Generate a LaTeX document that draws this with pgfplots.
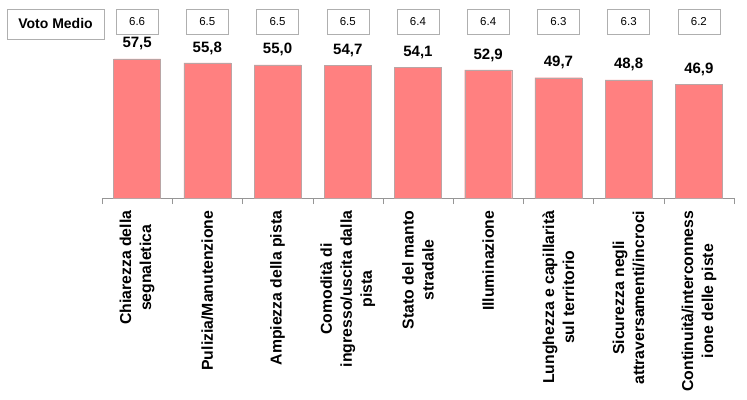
\documentclass[border=0pt]{standalone}
\usepackage{fontspec}
\setmainfont{Liberation Sans}
\usepackage{pgfplots}
\pgfplotsset{compat=1.18}
\definecolor{barfill}{RGB}{255,128,128}
\definecolor{bardraw}{RGB}{185,165,165}
\definecolor{axisgray}{RGB}{150,150,150}
\definecolor{boxgray}{RGB}{175,175,175}
\begin{document}
\begin{tikzpicture}
\path[use as bounding box] (0pt,0pt) rectangle (747pt,399pt);
\node[draw=boxgray, minimum width=97pt, minimum height=30pt, inner sep=0pt,
      font=\bfseries\fontsize{14}{16}\selectfont] at (55.5pt,375pt) {Voto Medio};
\begin{axis}[
  at={(137.1pt,201pt)}, anchor=origin,
  scale only axis, width=632pt, height=193.6pt,
  xmin=-0.5, xmax=8.5, ymin=0, ymax=80,
  axis y line=none, axis x line*=bottom,
  x axis line style={-, draw=axisgray},
  xtick={0,...,8},
  xticklabels={Chiarezza della\\segnaletica, Pulizia/Manutenzione, Ampiezza della pista,
    Comodità di\\ingresso/uscita dalla\\pista, Stato del manto\\stradale, Illuminazione,
    Lunghezza e capillarità\\sul territorio, Sicurezza negli\\attraversamenti/incroci,
    Continuità/interconness\\ione delle piste},
  major x tick style={draw=none},
  minor xtick={-0.5,0.5,...,8.5}, minor tick length=6pt, tick align=outside,
  minor x tick style={draw=axisgray},
  xticklabel style={yshift=-5pt, rotate=90, anchor=east, align=center,
    font=\bfseries\fontsize{15.8}{20}\selectfont},
  /pgf/number format/assume math mode=true,
  clip=false,
]
\addplot[ybar, bar width=47pt, fill=barfill, draw=bardraw,
  nodes near coords={\pgfmathprintnumber[fixed,fixed zerofill,precision=1,use comma,assume math mode=true]{\pgfplotspointmeta}},
  every node near coord/.append style={anchor=center, yshift=15pt, text=black,
    font=\bfseries\fontsize{15}{17}\selectfont}]
  coordinates {(0,57.5) (1,55.8) (2,55.0) (3,54.7) (4,54.1) (5,52.9) (6,49.7) (7,48.8) (8,46.9)};
\addplot[draw=none, mark=none, point meta=explicit symbolic, nodes near coords,
  every node near coord/.append style={draw=boxgray, anchor=center, minimum width=42pt,
    minimum height=25pt, inner sep=0pt, text=black, font=\fontsize{11.5}{13}\selectfont}]
  coordinates {(0,72.9)[6.6] (1,72.9)[6.5] (2,72.9)[6.5] (3,72.9)[6.5] (4,72.9)[6.4]
               (5,72.9)[6.4] (6,72.9)[6.3] (7,72.9)[6.3] (8,72.9)[6.2]};
\end{axis}
\end{tikzpicture}
\end{document}
